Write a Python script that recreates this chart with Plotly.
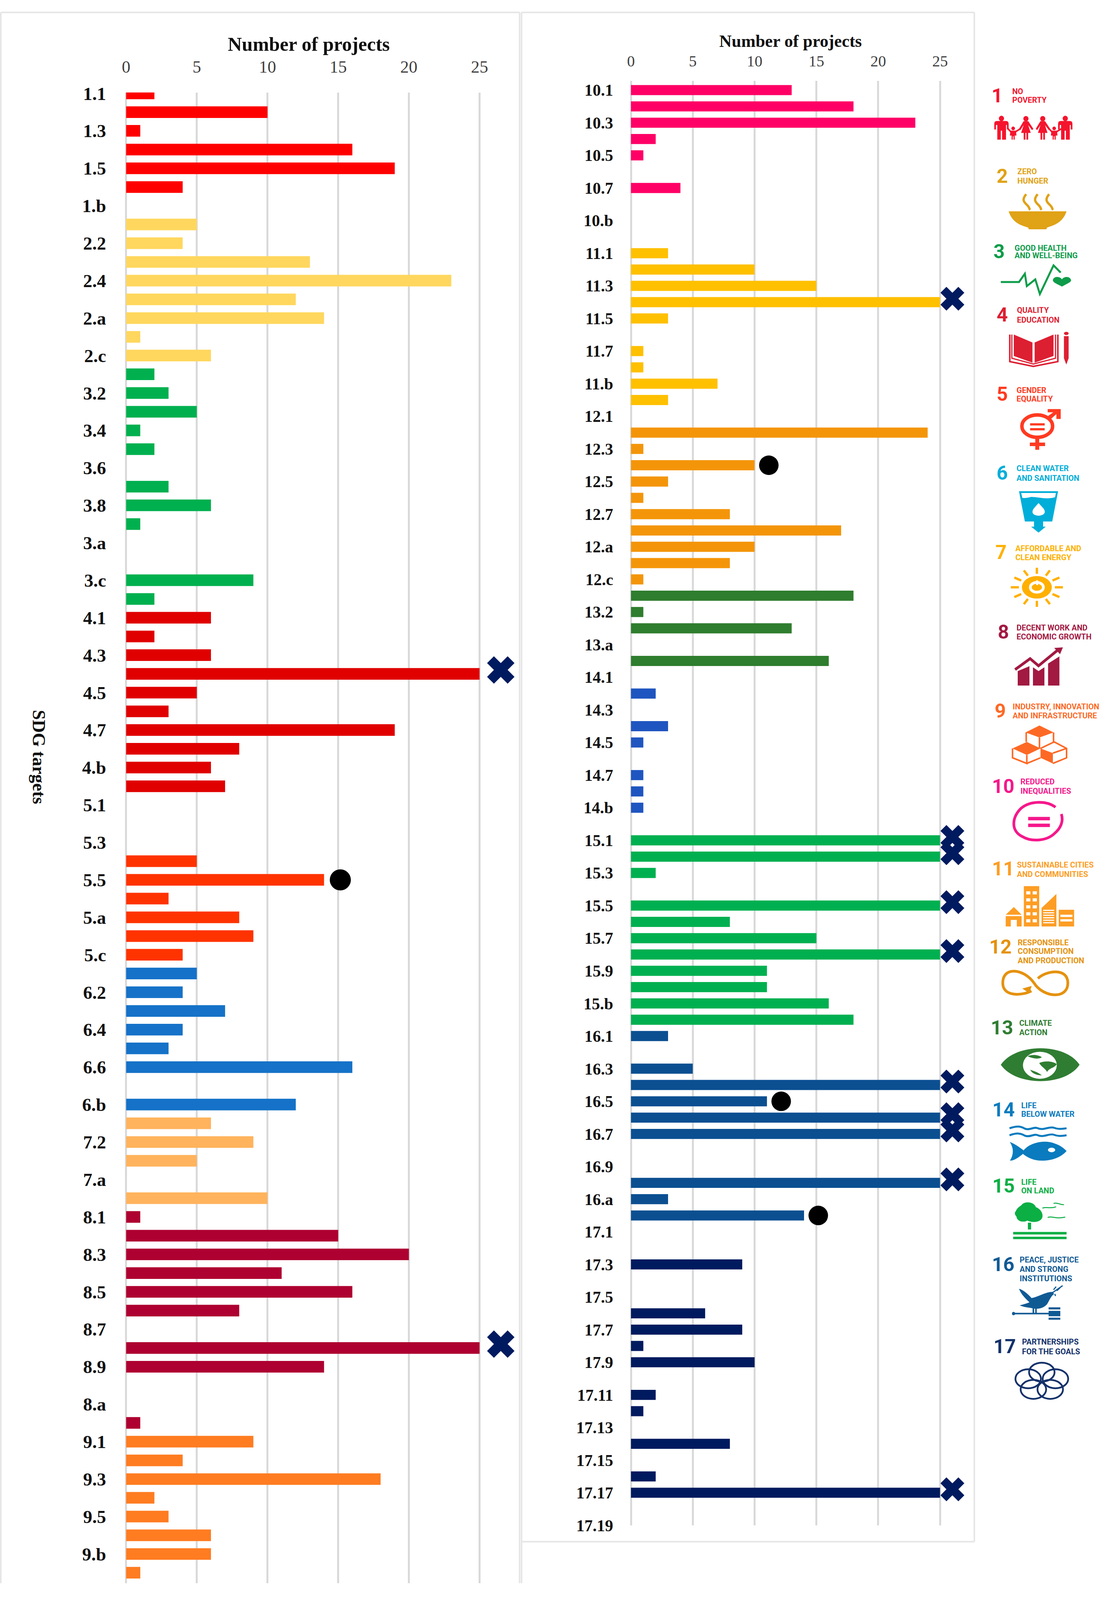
import math
import plotly.graph_objects as go

# layout is written in reference pixels (2854x5434). The browser window really measures 2854x4096,
# so the post_script below fits the figure to the window height; fonts and markers are sized for that.
PAGE_W = 2854
PAGE_H = 5434

goal1_targets = ["1.1", "1.2", "1.3", "1.4", "1.5", "1.a", "1.b"]
goal1_values = [2, 10, 1, 16, 19, 4, 0]
goal2_targets = ["2.1", "2.2", "2.3", "2.4", "2.5", "2.a", "2.b", "2.c"]
goal2_values = [5, 4, 13, 23, 12, 14, 1, 6]
goal3_targets = ["3.1", "3.2", "3.3", "3.4", "3.5", "3.6", "3.7", "3.8", "3.9", "3.a", "3.b", "3.c", "3.d"]
goal3_values = [2, 3, 5, 1, 2, 0, 3, 6, 1, 0, 0, 9, 2]
goal4_targets = ["4.1", "4.2", "4.3", "4.4", "4.5", "4.6", "4.7", "4.a", "4.b", "4.c"]
goal4_values = [6, 2, 6, 25, 5, 3, 19, 8, 6, 7]
goal5_targets = ["5.1", "5.2", "5.3", "5.4", "5.5", "5.6", "5.a", "5.b", "5.c"]
goal5_values = [0, 0, 0, 5, 14, 3, 8, 9, 4]
goal6_targets = ["6.1", "6.2", "6.3", "6.4", "6.5", "6.6", "6.a", "6.b"]
goal6_values = [5, 4, 7, 4, 3, 16, 0, 12]
goal7_targets = ["7.1", "7.2", "7.3", "7.a", "7.b"]
goal7_values = [6, 9, 5, 0, 10]
goal8_targets = ["8.1", "8.2", "8.3", "8.4", "8.5", "8.6", "8.7", "8.8", "8.9", "8.10", "8.a", "8.b"]
goal8_values = [1, 15, 20, 11, 16, 8, 0, 25, 14, 0, 0, 1]
goal9_targets = ["9.1", "9.2", "9.3", "9.4", "9.5", "9.a", "9.b", "9.c"]
goal9_values = [9, 4, 18, 2, 3, 6, 6, 1]
goal10_targets = ["10.1", "10.2", "10.3", "10.4", "10.5", "10.6", "10.7", "10.a", "10.b", "10.c"]
goal10_values = [13, 18, 23, 2, 1, 0, 4, 0, 0, 0]
goal11_targets = ["11.1", "11.2", "11.3", "11.4", "11.5", "11.6", "11.7", "11.a", "11.b", "11.c"]
goal11_values = [3, 10, 15, 25, 3, 0, 1, 1, 7, 3]
goal12_targets = ["12.1", "12.2", "12.3", "12.4", "12.5", "12.6", "12.7", "12.8", "12.a", "12.b", "12.c"]
goal12_values = [0, 24, 1, 10, 3, 1, 8, 17, 10, 8, 1]
goal13_targets = ["13.1", "13.2", "13.3", "13.a", "13.b"]
goal13_values = [18, 1, 13, 0, 16]
goal14_targets = ["14.1", "14.2", "14.3", "14.4", "14.5", "14.6", "14.7", "14.a", "14.b", "14.c"]
goal14_values = [0, 2, 0, 3, 1, 0, 1, 1, 1, 0]
goal15_targets = ["15.1", "15.2", "15.3", "15.4", "15.5", "15.6", "15.7", "15.8", "15.9", "15.a", "15.b", "15.c"]
goal15_values = [25, 25, 2, 0, 25, 8, 15, 25, 11, 11, 16, 18]
goal16_targets = ["16.1", "16.2", "16.3", "16.4", "16.5", "16.6", "16.7", "16.8", "16.9", "16.10", "16.a", "16.b"]
goal16_values = [3, 0, 5, 25, 11, 25, 25, 0, 0, 25, 3, 14]
goal17_targets = ["17.1", "17.2", "17.3", "17.4", "17.5", "17.6", "17.7", "17.8", "17.9", "17.10",
                  "17.11", "17.12", "17.13", "17.14", "17.15", "17.16", "17.17", "17.18", "17.19"]
goal17_values = [0, 0, 9, 0, 0, 6, 9, 1, 10, 0, 2, 1, 0, 8, 0, 2, 25, 0, 0]

bar_colors = ["#FF0000", "#FFD75E", "#00B04F", "#E00000", "#FF3300", "#1572C8", "#FFB35C", "#AE0031", "#FF7C21",
              "#FF0066", "#FFC000", "#F49509", "#2F7D2E", "#1F55C0", "#00B050", "#0B4F91", "#001A5F"]
icon_colors = ["#F5142D", "#E0A216", "#0E9C4A", "#DD1F32", "#FF3A21", "#00AED9", "#FFB000", "#A21942", "#FD6925",
               "#F5188B", "#FD9D24", "#E5920F", "#2F7D32", "#0A7BBE", "#0BAF44", "#105A94", "#13316A"]

# targets whose bar is cut at 25 (navy cross) and targets with a black dot
capped_targets = ["4.4", "8.8", "11.4", "15.1", "15.2", "15.5", "15.8", "16.4", "16.6", "16.7", "16.10", "17.17"]
dotted_targets = ["5.5", "12.4", "16.5", "16.b"]

goal_titles = [["NO", "POVERTY"], ["ZERO", "HUNGER"], ["GOOD HEALTH", "AND WELL-BEING"], ["QUALITY", "EDUCATION"],
               ["GENDER", "EQUALITY"], ["CLEAN WATER", "AND SANITATION"], ["AFFORDABLE AND", "CLEAN ENERGY"],
               ["DECENT WORK AND", "ECONOMIC GROWTH"], ["INDUSTRY, INNOVATION", "AND INFRASTRUCTURE"],
               ["REDUCED", "INEQUALITIES"], ["SUSTAINABLE CITIES", "AND COMMUNITIES"],
               ["RESPONSIBLE", "CONSUMPTION", "AND PRODUCTION"], ["CLIMATE", "ACTION"], ["LIFE", "BELOW WATER"],
               ["LIFE", "ON LAND"], ["PEACE, JUSTICE", "AND STRONG", "INSTITUTIONS"], ["PARTNERSHIPS", "FOR THE GOALS"]]

# legend layout in page pixels: number centre x, number centre y, title left x, title line centres y
legend_num_x = [2552, 2565, 2557, 2565, 2565, 2565, 2562, 2568, 2560, 2567, 2567, 2560, 2564, 2568, 2568, 2567, 2571]
legend_num_y = [325, 598, 854, 1069, 1339, 1606, 1876, 2147, 2414, 2670, 2951, 3216, 3490, 3769, 4028, 4294, 4573]
legend_txt_x = [2589, 2602, 2595, 2601, 2600, 2600, 2597, 2600, 2590, 2610, 2601, 2603, 2607, 2612, 2612, 2608, 2614]
legend_txt_y = [[310, 339], [583, 614], [842, 868], [1054, 1086], [1325, 1355], [1591, 1624], [1862, 1893],
                [2132, 2162], [2400, 2430], [2655, 2686], [2937, 2969], [3201, 3231, 3262], [3475, 3507],
                [3755, 3784], [4014, 4044], [4279, 4310, 4342], [4557, 4590]]

left_goals = [(goal1_targets, goal1_values, 0), (goal2_targets, goal2_values, 1), (goal3_targets, goal3_values, 2),
              (goal4_targets, goal4_values, 3), (goal5_targets, goal5_values, 4), (goal6_targets, goal6_values, 5),
              (goal7_targets, goal7_values, 6), (goal8_targets, goal8_values, 7), (goal9_targets, goal9_values, 8)]
right_goals = [(goal10_targets, goal10_values, 9), (goal11_targets, goal11_values, 10),
               (goal12_targets, goal12_values, 11), (goal13_targets, goal13_values, 12),
               (goal14_targets, goal14_values, 13), (goal15_targets, goal15_values, 14),
               (goal16_targets, goal16_values, 15), (goal17_targets, goal17_values, 16)]

fig = go.Figure()


def add_panel(goals, xa, ya, bar_width, cross_x, cross_size, dot_size):
    targets = [t for g in goals for t in g[0]]
    values = [v for g in goals for v in g[1]]
    start = 0
    for names, vals, color_idx in goals:
        fig.add_trace(go.Bar(y=list(range(start, start + len(names))), x=vals, orientation="h", width=bar_width,
                             marker=dict(color=bar_colors[color_idx], line_width=0), xaxis=xa, yaxis=ya,
                             showlegend=False, hovertext=names))
        start += len(names)
    crosses = [targets.index(t) - 0.21 for t in capped_targets if t in targets]
    fig.add_trace(go.Scatter(x=[cross_x] * len(crosses), y=crosses, mode="markers", xaxis=xa, yaxis=ya,
                             marker=dict(symbol="x", size=cross_size, color="#001A5F", line_width=0),
                             showlegend=False, cliponaxis=False))
    dots = [t for t in dotted_targets if t in targets]
    fig.add_trace(go.Scatter(x=[values[targets.index(t)] + 1.15 for t in dots], y=[targets.index(t) for t in dots],
                             mode="markers", xaxis=xa, yaxis=ya,
                             marker=dict(symbol="circle", size=dot_size, color="black", line_width=0),
                             showlegend=False, cliponaxis=False))
    return targets


left_targets = add_panel(left_goals, "x", "y", 0.62, 26.5, 62, 54)
right_targets = add_panel(right_goals, "x2", "y2", 0.62, 26.0, 54, 50)

# ---- small legend icons, drawn in zoomed-crop coordinates (origin x, origin y, scale x, scale y)
Z6 = (2480, 260, 3, 1.3067)
Z7 = (2480, 1300, 3, 2.24)
Z3 = (2450, 1700, 3, 1.568)
Z8 = (2480, 2600, 3, 1.3067)
Z9 = (2480, 3700, 3, 1.4255)

shapes = []


def svg(d, z, dx=0):
    out = []
    i = 0
    for tok in d.split():
        if tok.isalpha():
            out.append(tok)
            i = 0
        else:
            v = float(tok)
            out.append(str(round(z[0] + (v + dx) / z[2], 1)) if i % 2 == 0 else str(round(z[1] + v / z[3], 1)))
            i += 1
    return " ".join(out)


def fill(d, z, color, dx=0):
    shapes.append(dict(type="path", path=svg(d, z, dx), fillcolor=color, line_width=0, xref="x3", yref="y3"))


def stroke(d, z, color, w, dx=0):
    shapes.append(dict(type="path", path=svg(d, z, dx), line=dict(color=color, width=w), xref="x3", yref="y3"))


def oval(cx, cy, rx, ry, z, fillcolor=None, line=None, w=0):
    shapes.append(dict(type="circle", xref="x3", yref="y3",
                       x0=z[0] + (cx - rx) / z[2], x1=z[0] + (cx + rx) / z[2],
                       y0=z[1] + (cy - ry) / z[3], y1=z[1] + (cy + ry) / z[3],
                       fillcolor=fillcolor if fillcolor else "rgba(0,0,0,0)",
                       line=dict(color=line if line else "rgba(0,0,0,0)", width=w)))


def box(x0, y0, x1, y1, z, color):
    fill(f"M {x0} {y0} L {x1} {y0} L {x1} {y1} L {x0} {y1} Z", z, color)


# 1 no poverty
c = icon_colors[0]
man = "M 195 235 L 195 210 Q 195 197 215 197 L 285 197 Q 305 197 305 210 L 305 235 L 292 235 L 292 215 L 285 215 L 285 280 L 255 280 L 255 240 L 245 240 L 245 280 L 218 280 L 218 215 L 208 215 L 208 235 Z"
woman = "M 385 232 L 420 198 L 456 198 L 495 232 L 485 238 L 455 215 L 475 250 L 455 250 L 455 280 L 442 280 L 442 250 L 434 250 L 434 280 L 421 280 L 421 250 L 401 250 L 421 215 L 395 238 Z"
child = "M 318 240 L 362 240 L 365 262 L 352 262 L 352 280 L 343 280 L 343 265 L 337 265 L 337 280 L 328 280 L 328 262 L 315 262 Z"
for dx in [0, 490]:
    fill(man, Z6, c, dx)
    oval(250 + dx, 186, 20, 12, Z6, fillcolor=c)
for dx in [0, 129]:
    fill(woman, Z6, c, dx)
    oval(438 + dx, 187, 20, 12, Z6, fillcolor=c)
for dx in [0, 315]:
    fill(child, Z6, c, dx)
    oval(340 + dx, 230, 14, 8, Z6, fillcolor=c)
stroke("M 298 230 L 322 245 M 358 245 L 395 232", Z6, c, 4)
stroke("M 298 230 L 322 245 M 358 245 L 395 232", Z6, c, 4, 315)

# 2 zero hunger
c = icon_colors[1]
fill("M 305 598 L 750 598 C 720 650 650 660 600 670 L 595 678 L 460 678 L 455 670 C 400 660 335 650 305 598 Z", Z6, c)
for dx in [0, 88, 176]:
    stroke("M 440 522 C 400 550 430 560 450 572 C 470 585 460 585 470 592", Z6, c, 6, dx)

# 3 good health
c = icon_colors[2]
stroke("M 245 912 L 385 912 L 430 875 L 445 930 L 510 900 L 545 965 L 650 838 L 705 870", Z6, c, 5)
fill("M 715 932 C 680 920 645 915 645 903 C 650 885 700 885 715 900 C 730 885 780 885 785 905 C 780 915 750 920 715 932 Z", Z6, c)

# 4 quality education
c = icon_colors[3]
fill("M 345 1145 L 488 1180 L 488 1270 L 345 1240 Z", Z6, c)
fill("M 505 1180 L 650 1145 L 650 1240 L 505 1270 Z", Z6, c)
stroke("M 314 1145 L 314 1265 L 495 1286 L 683 1265 L 683 1145", Z6, c, 4)
stroke("M 330 1145 L 330 1250 L 495 1276 L 665 1250 L 665 1145", Z6, c, 3)
fill("M 730 1152 L 766 1152 L 766 1250 L 748 1278 L 730 1250 Z", Z6, c)
oval(748, 1140, 18, 7, Z6, fillcolor=c)

# 5 gender equality
c = icon_colors[4]
oval(525, 330, 118, 85, Z7, line=c, w=9)
fill("M 510 420 L 540 420 L 540 455 L 585 455 L 585 482 L 540 482 L 540 510 L 510 510 L 510 482 L 468 482 L 468 455 L 510 455 Z", Z7, c)
fill("M 605 200 L 705 200 L 705 275 L 672 275 L 672 238 L 630 275 L 605 255 L 648 225 L 605 225 Z", Z7, c)
box(470, 308, 582, 325, Z7, c)
box(470, 345, 582, 362, Z7, c)

# 6 clean water
c = icon_colors[5]
fill("M 385 825 L 685 825 L 640 1055 L 570 1055 L 570 1095 L 590 1095 L 535 1140 L 478 1095 L 500 1095 L 500 1055 L 430 1055 Z", Z7, c)
fill("M 402 838 L 668 838 L 662 870 C 600 890 540 870 480 868 C 450 875 420 880 410 875 Z", Z7, "white")
fill("M 535 915 C 560 945 585 960 583 985 C 575 1020 495 1020 488 985 C 488 960 510 945 535 915 Z", Z7, "white")

# 7 clean energy
c = icon_colors[6]
oval(612, 462, 115, 60, Z3, fillcolor=c)
oval(612, 462, 50, 26, Z3, line="white", w=7)
box(607, 425, 622, 450, Z3, "white")
for angle in range(0, 360, 30):
    a = math.radians(angle)
    stroke(f"M {612 + 138 * math.cos(a):.0f} {462 + 72 * math.sin(a):.0f} L {612 + 200 * math.cos(a):.0f} {462 + 104 * math.sin(a):.0f}", Z3, c, 6)

# 8 decent work
c = icon_colors[7]
fill("M 465 985 L 465 908 L 555 882 L 555 985 Z", Z3, c)
fill("M 582 985 L 582 888 L 625 908 L 670 888 L 670 985 Z", Z3, c)
fill("M 698 985 L 698 868 L 785 830 L 785 985 Z", Z3, c)
stroke("M 445 900 L 560 842 L 625 880 L 775 795", Z3, c, 7)
fill("M 745 785 L 812 782 L 790 818 Z", Z3, c)

# 9 industry
c = icon_colors[8]
fill("M 632 1198 L 740 1235 L 632 1262 L 525 1235 Z", Z3, c)
fill("M 425 1320 L 535 1285 L 640 1320 L 535 1355 Z", Z3, c)
fill("M 640 1320 L 640 1370 L 735 1400 L 735 1345 Z", Z3, c)
stroke("M 530 1235 L 530 1285 M 740 1235 L 740 1290 M 632 1262 L 632 1320 M 425 1320 L 425 1370 L 535 1400 L 535 1355 M 535 1400 L 640 1370", Z3, c, 4)
stroke("M 640 1320 L 745 1285 L 840 1320 L 840 1370 L 735 1400 M 735 1345 L 840 1320", Z3, c, 4)

# 10 reduced inequalities
c = icon_colors[9]
stroke("M 665 185 C 600 155 470 155 400 190 C 330 230 320 290 410 315 C 480 340 600 335 660 300 C 700 280 730 250 710 215", Z8, c, 7)
box(455, 228, 622, 243, Z8, c)
box(455, 258, 622, 273, Z8, c)

# 11 sustainable cities
c = icon_colors[10]
fill("M 283 662 L 345 628 L 405 662 Z", Z8, c)
fill("M 283 668 L 405 668 L 405 714 L 368 714 L 368 685 L 322 685 L 322 714 L 283 714 Z", Z8, c)
box(422, 535, 540, 714, Z8, c)
for row in range(5):
    box(440, 558 + row * 31, 472, 572 + row * 31, Z8, "white")
    box(490, 558 + row * 31, 522, 572 + row * 31, Z8, "white")
fill("M 558 632 L 672 570 L 672 714 L 558 714 Z", Z8, c)
for row in range(6):
    box(570, 640 + row * 11, 655, 645 + row * 11, Z8, "white")
box(690, 640, 808, 714, Z8, c)
for row in range(2):
    box(703, 662 + row * 20, 795, 672 + row * 20, Z8, "white")

# 12 responsible consumption
c = icon_colors[11]
stroke("M 480 1000 C 420 1020 260 1030 260 965 C 260 890 420 900 500 965 C 570 1030 760 1040 760 965 C 760 895 590 910 530 945", Z8, c, 7)
fill("M 410 990 L 482 978 L 465 1010 Z", Z8, c)

# 13 climate action
c = icon_colors[12]
fill("M 245 1328 C 360 1230 740 1230 850 1328 C 740 1425 360 1425 245 1328 Z", Z8, c)
oval(545, 1330, 130, 60, Z8, fillcolor="white")
fill("M 450 1290 C 490 1280 540 1285 560 1295 C 530 1305 490 1300 450 1290 Z", Z8, c)
fill("M 540 1320 C 580 1310 640 1310 675 1325 C 650 1345 620 1340 600 1360 C 590 1345 560 1340 540 1320 Z", Z8, c)
fill("M 470 1350 C 490 1355 530 1360 560 1375 C 530 1375 490 1370 470 1350 Z", Z8, c)

# 14 life below water
c = icon_colors[13]
for dy_path in ["M 312 188 C 370 175 400 178 430 190 C 470 200 500 178 530 188 C 570 200 620 178 650 185 C 690 195 720 190 750 188",
                "M 312 222 C 370 209 400 212 430 224 C 470 234 500 212 530 222 C 570 234 620 212 650 219 C 690 229 720 224 750 222"]:
    stroke(dy_path, Z9, c, 5)
fill("M 315 255 C 345 260 400 285 420 295 C 480 250 600 245 660 262 C 700 270 730 285 750 298 C 720 320 660 345 560 345 C 500 345 450 330 415 312 C 390 325 350 345 315 345 C 345 315 345 285 315 255 Z", Z9, c)
oval(635, 293, 28, 11, Z9, fillcolor="white")

# 15 life on land
c = icon_colors[14]
fill("M 360 590 C 370 570 400 565 410 555 C 440 540 500 545 515 570 C 560 580 575 610 560 625 C 540 645 480 645 450 635 C 420 645 370 640 365 615 C 350 605 350 595 360 590 Z", Z9, c)
box(453, 645, 478, 678, Z9, c)
box(340, 690, 750, 702, Z9, c)
box(340, 713, 750, 725, Z9, c)
stroke("M 565 575 C 590 565 620 580 670 568 M 650 552 C 680 545 700 560 730 558 M 605 620 C 640 610 660 630 740 618", Z9, c, 2.5)

# 16 peace and justice
c = icon_colors[15]
fill("M 385 965 C 420 970 470 1000 480 1010 C 530 1005 590 980 640 980 L 655 990 C 630 1000 620 1020 600 1040 C 570 1060 530 1065 490 1060 C 460 1055 420 1055 390 1045 C 420 1040 450 1035 465 1030 C 430 1010 400 990 385 965 Z", Z9, c)
stroke("M 640 985 L 720 950 M 650 970 L 670 955 M 675 975 L 700 960 M 660 990 L 665 1000", Z9, c, 3)
stroke("M 345 1085 L 615 1085 M 495 1060 L 495 1085 M 515 1060 L 515 1085", Z9, c, 4)
oval(343, 1085, 12, 8, Z9, fillcolor=c)
box(612, 1055, 702, 1115, Z9, c)
box(612, 1065, 702, 1072, Z9, "white")
box(612, 1098, 702, 1105, Z9, "white")

# 17 partnerships
c = icon_colors[16]
for angle in [-90, -18, 54, 126, 198]:
    a = math.radians(angle)
    oval(560 + 110 * math.cos(a), 1415 + 46 * math.sin(a), 98, 46, Z9, line=c, w=4.5)

# panel frames
frame = "#E6E6E6"
for x0, y0, x1, y1 in [(2, 42, 1330, 42), (2, 42, 2, 5377), (1330, 42, 1330, 5377), (1335, 42, 2494, 42),
                       (1335, 42, 1335, 5377), (2494, 42, 2494, 5236), (1335, 5236, 2494, 5236)]:
    shapes.append(dict(type="line", x0=x0, y0=y0, x1=x1, y1=y1, xref="x3", yref="y3", layer="below",
                       line=dict(color=frame, width=4)))

# ---- text placed on the page axes
annotations = []


def page_text(x, y, text, size, color, font="Liberation Serif", bold=False, anchor="center", angle=0):
    annotations.append(dict(x=x, y=y, xref="x3", yref="y3", text=f"<b>{text}</b>" if bold else text, showarrow=False,
                            xanchor=anchor, yanchor="middle", textangle=angle,
                            font=dict(family=font, size=size, color=color)))


page_text(790, 150, "Number of projects", 50, "#111111", bold=True)
page_text(2023, 140, "Number of projects", 44, "#111111", bold=True)
page_text(100, 2570, "SDG targets", 46, "#111111", bold=True, angle=90)

for i, lines in enumerate(goal_titles):
    page_text(legend_num_x[i], legend_num_y[i], str(i + 1), 50, icon_colors[i], font="Roboto", bold=True)
    for line, ly in zip(lines, legend_txt_y[i]):
        page_text(legend_txt_x[i], ly, line, 20, icon_colors[i], font="Roboto", bold=True, anchor="left")


def xaxis_style(x0, x1, lo, hi, tick_size, tick_gap, anchor):
    return dict(domain=[x0 / PAGE_W, x1 / PAGE_W], range=[lo, hi], side="top", anchor=anchor, automargin=False,
                tickmode="array", tickvals=[0, 5, 10, 15, 20, 25], showgrid=True, gridcolor="#D9D9D9", gridwidth=5,
                zeroline=False, showline=False, ticks="outside", ticklen=tick_gap, tickcolor="rgba(0,0,0,0)",
                tickfont=dict(family="Liberation Serif", size=tick_size, color="#404040"))


def yaxis_style(y0, y1, lo, hi, targets, tick_size, tick_gap, anchor):
    idx = list(range(len(targets)))[::2]
    return dict(domain=[1 - y1 / PAGE_H, 1 - y0 / PAGE_H], range=[hi, lo], anchor=anchor, automargin=False,
                tickmode="array", tickvals=idx, ticktext=[f"<b>{targets[i]}</b>" for i in idx],
                showgrid=False, zeroline=False, showline=False, ticks="outside", ticklen=tick_gap,
                tickcolor="rgba(0,0,0,0)", tickfont=dict(family="Liberation Serif", size=tick_size, color="#111111"))


fig.update_layout(
    width=PAGE_W, height=PAGE_H, autosize=False, margin=dict(l=0, r=0, t=0, b=0),
    plot_bgcolor="rgba(0,0,0,0)", paper_bgcolor="white", barmode="overlay", showlegend=False,
    xaxis=xaxis_style(312, 1318, -0.30, 27.5, 44, 32, "y"),
    yaxis=yaxis_style(314, 5377, -0.05, 79.56, left_targets, 47, 30, "x"),
    xaxis2=xaxis_style(1604, 2490, -0.35, 27.65, 40, 20, "y2"),
    yaxis2=yaxis_style(275, 5181, -0.56, 88.01, right_targets, 42, 25, "x2"),
    xaxis3=dict(domain=[0, 1], range=[0, PAGE_W], visible=False, anchor="y3", fixedrange=True, automargin=False),
    yaxis3=dict(domain=[0, 1], range=[PAGE_H, 0], visible=False, anchor="x3", fixedrange=True, automargin=False),
    shapes=shapes, annotations=annotations,
)

fit_window = """
document.body.style.margin = '0';
document.body.style.overflow = 'hidden';
var gd = document.getElementsByClassName('plotly-graph-div')[0];
Plotly.relayout(gd, {width: window.innerWidth, height: window.innerHeight});
"""
fig.write_html("out.html", post_script=fit_window, config=dict(displayModeBar=False))
